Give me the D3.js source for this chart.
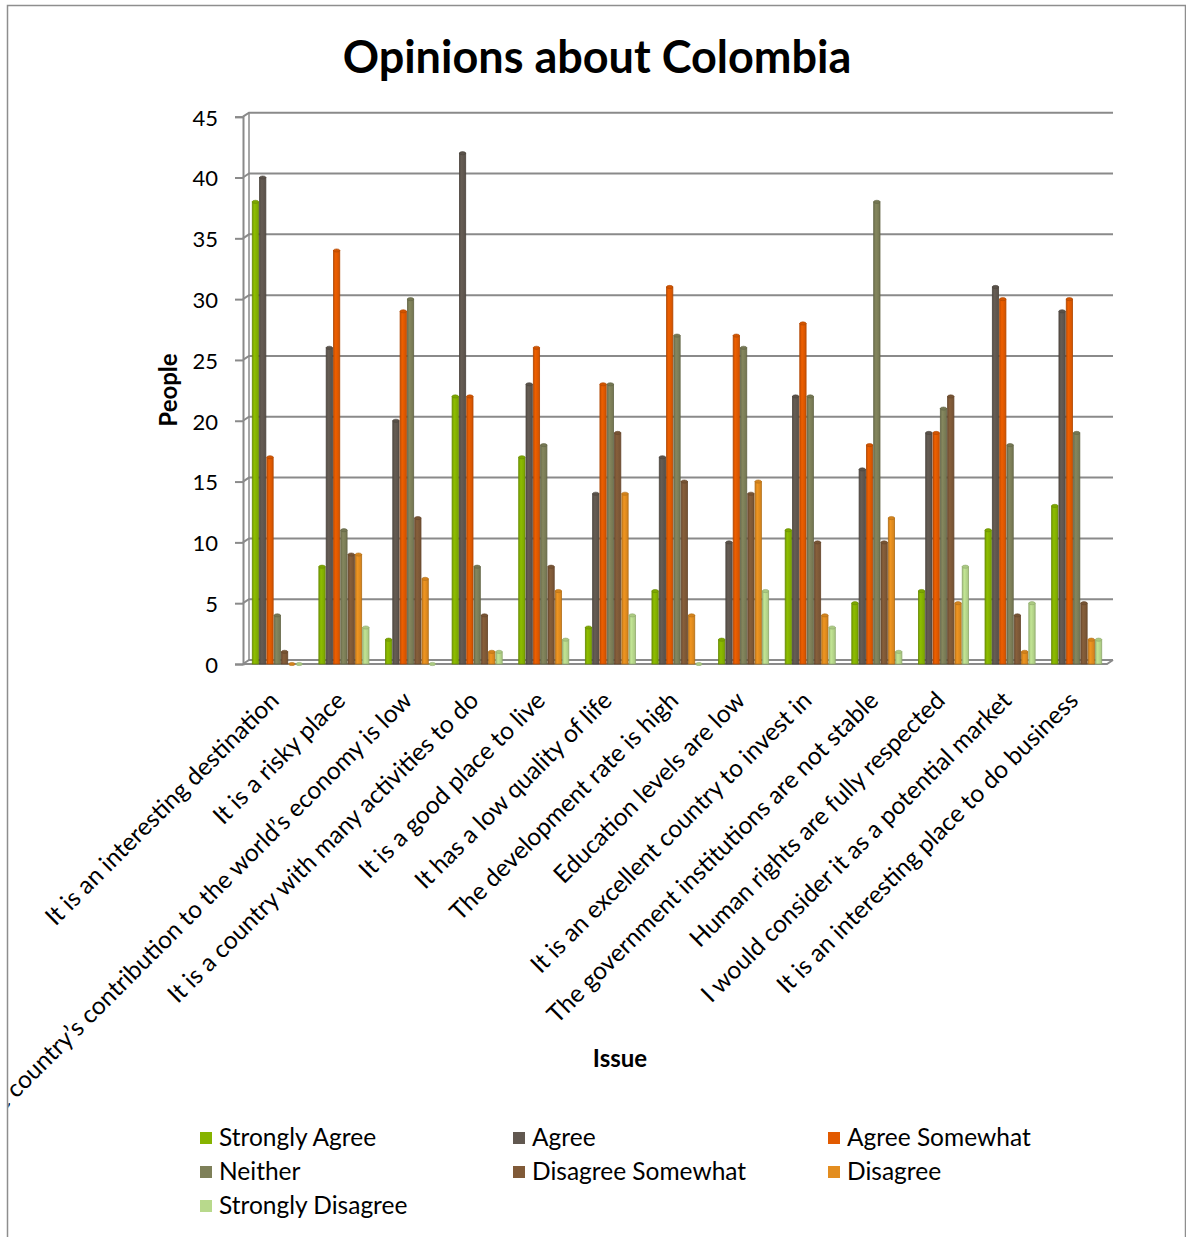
<!DOCTYPE html>
<html>
<head>
<meta charset="utf-8">
<script src="https://cdn.jsdelivr.net/npm/d3@7"></script>
<style>
  html, body { margin: 0; padding: 0; background: #fff; }
  svg { display: block; }
  text { font-family: Lato, "Open Sans", sans-serif; fill: #000; }
</style>
</head>
<body>
<script>
// Survey answers: number of people per opinion level, for each statement about Colombia
const categories = [
  "It is an interesting destination",
  "It is a risky place",
  "The country\u2019s contribution to the world\u2019s economy is low",
  "It is a country with many activities to do",
  "It is a good place to live",
  "It has a low quality of life",
  "The development rate is high",
  "Education levels are low",
  "It is an excellent country to invest in",
  "The government institutions are not stable",
  "Human rights are fully respected",
  "I would consider it as a potential market",
  "It is an interesting place to do business"
];
const seriesNames = ["Strongly Agree", "Agree", "Agree Somewhat", "Neither", "Disagree Somewhat", "Disagree", "Strongly Disagree"];
const stronglyAgree    = [38, 8, 2, 22, 17, 3, 6, 2, 11, 5, 6, 11, 13];
const agree            = [40, 26, 20, 42, 23, 14, 17, 10, 22, 16, 19, 31, 29];
const agreeSomewhat    = [17, 34, 29, 22, 26, 23, 31, 27, 28, 18, 19, 30, 30];
const neither          = [4, 11, 30, 8, 18, 23, 27, 26, 22, 38, 21, 18, 19];
const disagreeSomewhat = [1, 9, 12, 4, 8, 19, 15, 14, 10, 10, 22, 4, 5];
const disagree         = [0, 9, 7, 1, 6, 14, 4, 15, 4, 12, 5, 1, 2];
const stronglyDisagree = [0, 3, 0, 1, 2, 4, 0, 6, 3, 1, 8, 5, 2];
const yTicks = [0, 5, 10, 15, 20, 25, 30, 35, 40, 45];

const seriesValues = [stronglyAgree, agree, agreeSomewhat, neither, disagreeSomewhat, disagree, stronglyDisagree];
const colors = ["#86b300", "#615850", "#e25a00", "#7e8059", "#805a38", "#e38d1f", "#b8d98c"];

const W = 1186, H = 1237;
const svg = d3.select("body").append("svg").attr("width", W).attr("height", H);
const defs = svg.append("defs");

// outer chart frame (bottom edge falls outside the view)
svg.append("path")
  .attr("d", `M7.5,${H + 5} V5.5 H1185.5 V${H + 5}`)
  .attr("fill", "none").attr("stroke", "#8e8e8e").attr("stroke-width", 1.5);

// title
svg.append("text").attr("x", 597).attr("y", 73).attr("text-anchor", "middle")
  .style("font-weight", "bold").style("font-size", "45px").text("Opinions about Colombia");

// scales
const x0 = d3.scaleBand().domain(d3.range(categories.length)).range([244, 1110]).paddingInner(0.233).paddingOuter(0.1165);
const x1 = d3.scaleBand().domain(d3.range(seriesNames.length)).range([0, x0.bandwidth()]);
const y = d3.scaleLinear().domain([0, 45]).range([664, 116.7]);

// depth offset of the back wall
const dx = 6, dy = -4;
const axisX = 243, wallRight = 1113;
const gridColor = "#8a8a8a";

// gridlines on the back wall with short diagonal joints from the front axis
const grid = svg.append("g");
yTicks.forEach(t => {
  const yy = y(t);
  grid.append("path")
    .attr("d", `M${axisX},${yy} L${axisX + dx},${yy + dy} H${wallRight}`)
    .attr("fill", "none").attr("stroke", gridColor).attr("stroke-width", 2);
});
// back wall left edge
grid.append("line").attr("x1", axisX + dx).attr("x2", axisX + dx)
  .attr("y1", y(45) + dy).attr("y2", y(0) + dy)
  .attr("stroke", gridColor).attr("stroke-width", 1.5);
// floor front edge
grid.append("path")
  .attr("d", `M${axisX},${y(0)} H${wallRight - dx} L${wallRight},${y(0) + dy}`)
  .attr("fill", "none").attr("stroke", gridColor).attr("stroke-width", 2);

// front y axis
const yAxis = d3.axisLeft(y).tickValues(yTicks).tickSize(8).tickPadding(17);
const yAxisG = svg.append("g").attr("transform", `translate(${axisX},0)`).call(yAxis);
yAxisG.select(".domain").attr("stroke", gridColor).attr("stroke-width", 2);
yAxisG.selectAll(".tick line").attr("stroke", gridColor).attr("stroke-width", 2);
yAxisG.selectAll(".tick text").style("font-size", "22px").attr("dy", "0.38em")
  .style("font-family", "Lato, sans-serif").attr("fill", "#000");

// shaded fills so each bar reads as a rounded column
colors.forEach((c, i) => {
  const base = d3.color(c);
  const g = defs.append("linearGradient").attr("id", "bar" + i).attr("x1", 0).attr("x2", 1).attr("y1", 0).attr("y2", 0);
  g.append("stop").attr("offset", "0%").attr("stop-color", base.darker(0.35));
  g.append("stop").attr("offset", "35%").attr("stop-color", base.brighter(0.15));
  g.append("stop").attr("offset", "100%").attr("stop-color", base.darker(0.25));
});

// bars
const barW = x1.bandwidth();
const barsG = svg.append("g");
categories.forEach((cat, ci) => {
  const grp = barsG.append("g").attr("transform", `translate(${x0(ci)},0)`);
  seriesValues.forEach((vals, si) => {
    const v = vals[ci];
    const bx = x1(si) + 0.5;
    const top = y(v);
    const stroke = d3.color(colors[si]).darker(0.7);
    grp.append("rect")
      .attr("x", bx).attr("y", top).attr("width", barW - 1).attr("height", y(0) - top)
      .attr("fill", `url(#bar${si})`).attr("stroke", stroke).attr("stroke-width", 0.8);
    grp.append("ellipse")
      .attr("cx", bx + (barW - 1) / 2).attr("cy", top).attr("rx", (barW - 1) / 2).attr("ry", 1.6)
      .attr("fill", d3.color(colors[si]).darker(0.2)).attr("stroke", stroke).attr("stroke-width", 0.6);
  });
});

// category labels, rotated and clipped to the frame
defs.append("clipPath").attr("id", "frameClip")
  .append("rect").attr("x", 8.5).attr("y", 0).attr("width", 1176).attr("height", H);
const labels = svg.append("g").attr("clip-path", "url(#frameClip)");
categories.forEach((cat, ci) => {
  const cx = x0(ci) + x0.bandwidth() / 2 + 3;
  labels.append("text")
    .attr("transform", `translate(${cx},702) rotate(-45)`)
    .attr("text-anchor", "end")
    .style("font-size", "24.5px")
    .text(cat);
});

// axis titles
svg.append("text").attr("transform", "translate(177,390) rotate(-90)").attr("text-anchor", "middle")
  .style("font-weight", "bold").style("font-size", "24px").text("People");
svg.append("text").attr("x", 620).attr("y", 1067).attr("text-anchor", "middle")
  .style("font-weight", "bold").style("font-size", "24px").text("Issue");

// legend: three columns
const legendCols = [200, 513, 828];
const legendRows = [1146, 1180, 1214];
const legend = svg.append("g");
seriesNames.forEach((name, i) => {
  const lx = legendCols[i % 3], ly = legendRows[Math.floor(i / 3)];
  legend.append("rect").attr("x", lx).attr("y", ly - 14).attr("width", 12).attr("height", 12).attr("fill", colors[i]);
  legend.append("text").attr("x", lx + 19).attr("y", ly).style("font-size", "24.5px").text(name);
});
</script>
</body>
</html>
